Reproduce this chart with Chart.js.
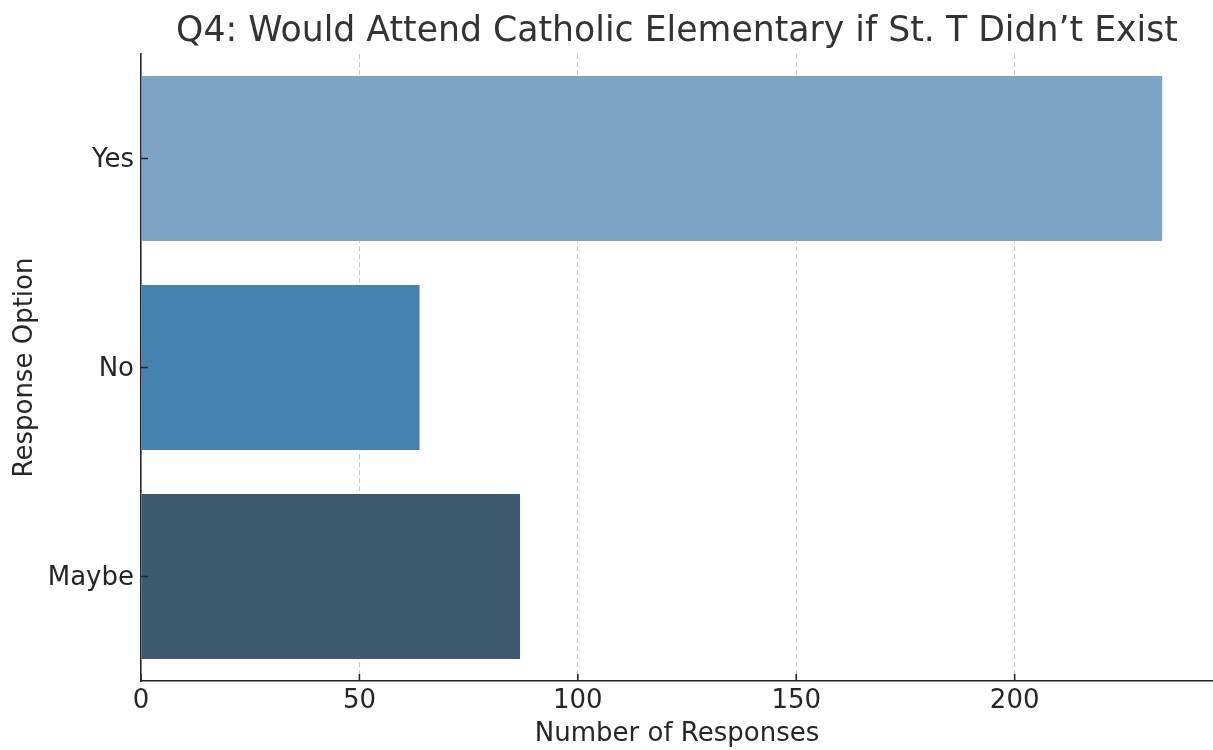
<!DOCTYPE html>
<html>
<head>
<meta charset="utf-8">
<script src="https://cdn.jsdelivr.net/npm/chart.js@4"></script>
<style>
  html, body { margin: 0; padding: 0; background: #fff; }
  #wrap { width: 1213px; height: 750px; }
</style>
</head>
<body>
<div id="wrap"><canvas id="barChart" width="1213" height="750"></canvas></div>
<script>
// data
const categories = ["Yes", "No", "Maybe"];
const responses = [234, 64, 87];
const barColors = ["#7ca4c4", "#4682b0", "#3c5a6e"];
const xTicks = [0, 50, 100, 150, 200];

const chartTitle = "Q4: Would Attend Catholic Elementary if St. T Didn\u2019t Exist";
const xTitle = "Number of Responses";
const yTitle = "Response Option";

const FONT = "'DejaVu Sans', sans-serif";
const INK = "#262626";

// title centred over the plot area, not over the whole canvas
const plotTitle = {
  id: "plotTitle",
  afterDraw(chart) {
    const { ctx, chartArea } = chart;
    ctx.save();
    ctx.font = "34.7px " + FONT;
    ctx.fillStyle = "#333333";
    ctx.textAlign = "center";
    ctx.textBaseline = "alphabetic";
    ctx.fillText(chartTitle, (chartArea.left + chartArea.right) / 2, chartArea.top - 13);
    ctx.restore();
  }
};

// short ticks pointing into the plot
const inwardTicks = {
  id: "inwardTicks",
  afterDraw(chart) {
    const { ctx, chartArea, scales } = chart;
    ctx.save();
    ctx.strokeStyle = INK;
    ctx.lineWidth = 1.6;
    ctx.beginPath();
    scales.y.ticks.forEach((t, i) => {
      const y = scales.y.getPixelForTick(i);
      ctx.moveTo(chartArea.left, y);
      ctx.lineTo(chartArea.left + 7, y);
    });
    scales.x.ticks.forEach((t, i) => {
      const x = scales.x.getPixelForTick(i);
      ctx.moveTo(x, chartArea.bottom);
      ctx.lineTo(x, chartArea.bottom - 7);
    });
    ctx.stroke();
    ctx.restore();
  }
};

new Chart(document.getElementById("barChart"), {
  type: "bar",
  data: {
    labels: categories,
    datasets: [{
      data: responses,
      backgroundColor: barColors,
      borderColor: "rgba(255,255,255,0.35)",
      borderWidth: 1,
      barPercentage: 0.8,
      categoryPercentage: 1.0
    }]
  },
  options: {
    indexAxis: "y",
    responsive: false,
    animation: false,
    layout: { padding: { top: 54, right: 0 } },
    plugins: {
      legend: { display: false },
      tooltip: { enabled: false },
      title: { display: false }
    },
    scales: {
      x: {
        type: "linear",
        min: 0,
        max: 245.4,
        z: 1,
        afterFit(scale) { scale.height = 69; },
        afterBuildTicks(scale) { scale.ticks = xTicks.map(v => ({ value: v })); },
        ticks: {
          color: INK,
          padding: 5,
          font: { family: FONT, size: 26 }
        },
        grid: {
          color: ctx => ctx.tick && ctx.tick.value === 0 ? "rgba(0,0,0,0)" : "rgba(176,176,176,0.7)",
          lineWidth: 1,
          drawTicks: false
        },
        // in v4 border.dash styles the grid lines
        border: { display: true, color: INK, width: 1.6, dash: [5, 3] },
        title: {
          display: true,
          text: xTitle,
          color: INK,
          font: { family: FONT, size: 26 },
          padding: { top: 0, bottom: 0 }
        }
      },
      y: {
        afterFit(scale) { scale.width = 141; },
        ticks: {
          color: INK,
          padding: 7,
          labelOffset: 2,
          font: { family: FONT, size: 26 }
        },
        grid: { display: false, drawTicks: false },
        border: { display: true, color: INK, width: 1.6 },
        title: {
          display: true,
          text: yTitle,
          color: INK,
          font: { family: FONT, size: 26 },
          padding: { top: 9.4, bottom: 0 }
        }
      }
    }
  },
  plugins: [plotTitle, inwardTicks]
});
</script>
</body>
</html>
